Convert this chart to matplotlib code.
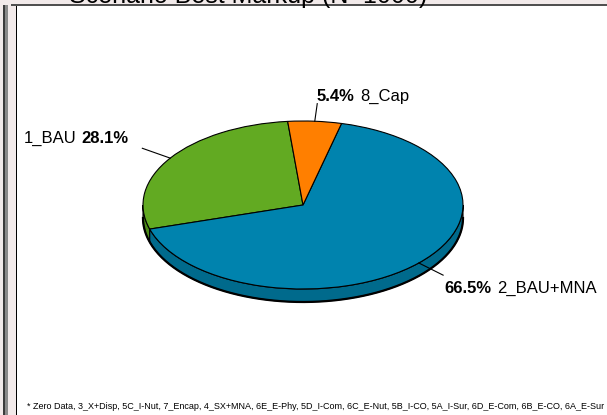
import numpy as np
import matplotlib
matplotlib.use('Agg')
import matplotlib.pyplot as plt
from matplotlib.patches import Rectangle, Polygon

# figure size in pixels
W, H = 607, 415

labels = ['1_BAU', '2_BAU+MNA', '8_Cap']
shares = [28.1, 66.5, 5.4]
top_colors = ['#62aa22', '#0083ae', '#ff7f00']
side_colors = ['#4c8a18', '#006a8c', '#cc6600']

title = 'Scenario Best Markup (N=1000)'
note = ('* Zero Data, 3_X+Disp, 5C_I-Nut, 7_Encap, 4_SX+MNA, 6E_E-Phy, '
        '5D_I-Com, 6C_E-Nut, 5B_I-CO, 5A_I-Sur, 6D_E-Com, 6B_E-CO, 6A_E-Sur')

plt.rcParams['font.family'] = ['Liberation Sans', 'DejaVu Sans']

# pie geometry (pixels, y measured from bottom)
cx, cy = 303, 210
rx, ry = 160, 84
depth = 13 / ry
start = 95.5
lead = 1.21


def fig_box(x, y, w, h, color):
    '''rectangle given in pixels measured from the top left corner'''
    r = Rectangle((x / W, 1 - (y + h) / H), w / W, h / H, transform=fig.transFigure,
                  facecolor=color, edgecolor='none', zorder=0)
    fig.add_artist(r)


fig = plt.figure(figsize=(W / 100, H / 100), dpi=100, facecolor='#f2eaea')

# window frame
fig_box(3, 5, 2, H, '#3c3c3c')
fig_box(5, 5, 3, H, '#8a8a8a')
fig_box(11, 4, W, 2, '#505050')
fig_box(16, 6, 1, H, '#000000')
fig_box(17, 6, W, H, '#ffffff')

ax = fig.add_axes([0, 0, 1, 1])
ax.patch.set_alpha(0)

wedges, _ = ax.pie(shares, colors=top_colors, startangle=start, counterclock=True,
                   wedgeprops=dict(edgecolor='black', linewidth=0.8, zorder=3))
ax.set_aspect('auto')
ax.set_xlim(-cx / rx, (W - cx) / rx)
ax.set_ylim(-cy / ry, (H - cy) / ry)
ax.axis('off')

# side wall of the disc, only the front half is visible
for w, col in zip(wedges, side_colors):
    for k in (-1, 0, 1):
        a = max(w.theta1, 180 + 360 * k)
        b = min(w.theta2, 360 + 360 * k)
        if b <= a:
            continue
        t = np.radians(np.linspace(a, b, 80))
        top = np.column_stack([np.cos(t), np.sin(t)])
        bot = np.column_stack([np.cos(t), np.sin(t) - depth])[::-1]
        ax.add_patch(Polygon(np.vstack([top, bot]), closed=True, facecolor=col,
                             edgecolor='black', linewidth=0.8, zorder=1))

t = np.radians(np.linspace(180, 360, 200))
ax.plot(np.cos(t), np.sin(t) - depth, color='black', lw=1.6, zorder=2)

# leader lines and labels: (offset in pixels, label on the left side?)
placing = [((-14, 10), True), ((1, -13), False), ((-1, 7), False)]
for w, lab, val, (off, left) in zip(wedges, labels, shares, placing):
    m = np.radians((w.theta1 + w.theta2) / 2)
    p0 = (np.cos(m), np.sin(m))
    p1 = (lead * np.cos(m), lead * np.sin(m))
    ax.plot([p0[0], p1[0]], [p0[1], p1[1]], color='black', lw=0.8, zorder=4)
    pct = '%.1f%%' % val
    if left:
        b = ax.annotate(pct, xy=p1, xytext=off, textcoords='offset pixels',
                        ha='right', va='center', fontsize=12, fontweight='bold')
        ax.annotate(lab, xy=(0, 0), xycoords=b, xytext=(-5, 0),
                    textcoords='offset pixels', ha='right', va='bottom', fontsize=12)
    else:
        b = ax.annotate(pct, xy=p1, xytext=off, textcoords='offset pixels',
                        ha='left', va='center', fontsize=12, fontweight='bold')
        ax.annotate(lab, xy=(1, 0), xycoords=b, xytext=(6, 0),
                    textcoords='offset pixels', ha='left', va='bottom', fontsize=12)

# the title sits mostly above the top edge of the window
fig.text(248 / W, 1 - 3.5 / H, title, ha='center', va='baseline', fontsize=18)
fig.text(27 / W, 1 - 406 / H, note, ha='left', va='center', fontsize=6.45)

fig.savefig('out.png', dpi=100, facecolor=fig.get_facecolor())
